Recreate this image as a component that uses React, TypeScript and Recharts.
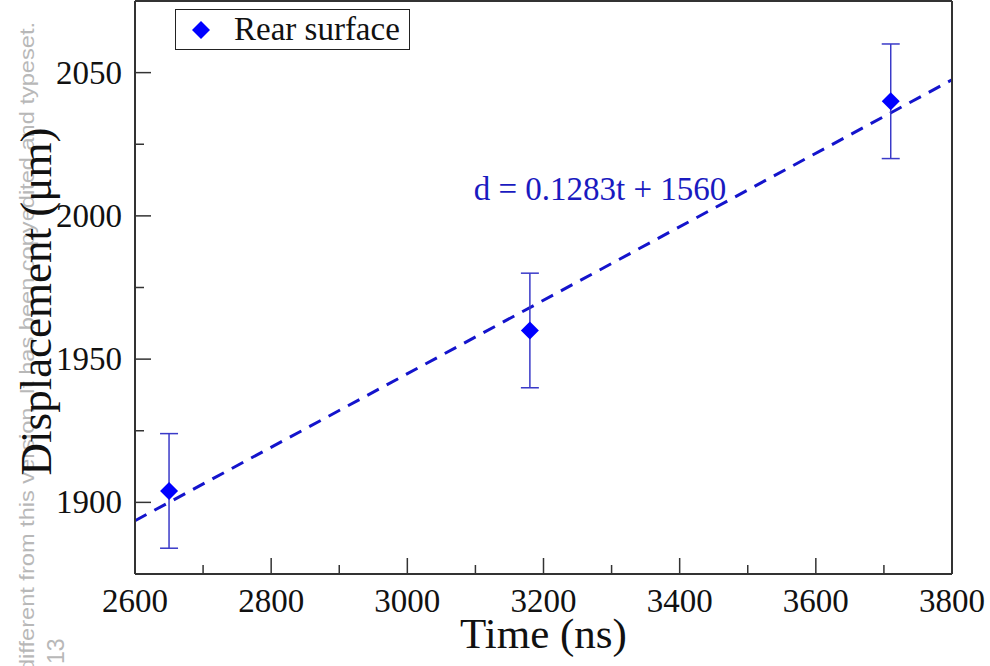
import {
  ComposedChart,
  ErrorBar,
  Legend,
  Line,
  ReferenceDot,
  Scatter,
  XAxis,
  YAxis,
} from "recharts";

const measured = [
  { t: 2650, d: 1904, err: 20 },
  { t: 3180, d: 1960, err: 20 },
  { t: 3710, d: 2040, err: 20 },
];

// fitted line d = 0.1283t + 1560, end points read at the frame edges
const fitLine = [
  { t: 2600, d: 1893.6 },
  { t: 3800, d: 2047.5 },
];

const xTicks = [2600, 2700, 2800, 2900, 3000, 3100, 3200, 3300, 3400, 3500, 3600, 3700, 3800];
const yTicks = [1900, 1925, 1950, 1975, 2000, 2025, 2050];
const xMajorStep = 200;
const yMajorStep = 50;

const fitLabel = "d = 0.1283t + 1560";
const fitLabelAt = { t: 3283, d: 2005 };

const FRAME = "#333";
const BLUE = "#0000ff";
const FONT = "'Liberation Serif', 'Times New Roman', serif";

function BottomTick({ x, y, payload }: any) {
  const major = payload.value % xMajorStep === 0;
  return (
    <g>
      <line x1={x} x2={x} y1={y} y2={y - (major ? 16 : 9)} stroke={FRAME} strokeWidth={1.5} />
      {major && (
        <text x={x} y={y + 38} textAnchor="middle" fontSize={33} fontFamily={FONT} fill="#111">
          {payload.value}
        </text>
      )}
    </g>
  );
}

function TopTick({ x, y, payload }: any) {
  const major = payload.value % xMajorStep === 0;
  return <line x1={x} x2={x} y1={y} y2={y + (major ? 16 : 9)} stroke={FRAME} strokeWidth={1.5} />;
}

function LeftTick({ x, y, payload }: any) {
  const major = payload.value % yMajorStep === 0;
  return (
    <g>
      <line x1={x} x2={x + (major ? 16 : 9)} y1={y} y2={y} stroke={FRAME} strokeWidth={1.5} />
      {major && (
        <text x={x - 13} y={y + 11} textAnchor="end" fontSize={33} fontFamily={FONT} fill="#111">
          {payload.value}
        </text>
      )}
    </g>
  );
}

function RightTick({ x, y, payload }: any) {
  const major = payload.value % yMajorStep === 0;
  return <line x1={x} x2={x - (major ? 16 : 9)} y1={y} y2={y} stroke={FRAME} strokeWidth={1.5} />;
}

function Diamond({ cx, cy }: any) {
  const r = 9;
  return <polygon points={`${cx},${cy - r} ${cx + r},${cy} ${cx},${cy + r} ${cx - r},${cy}`} fill={BLUE} />;
}

function LegendBox({ payload }: any) {
  const items = (payload || []).filter((p: any) => p.type !== "none");
  return (
    <div
      style={{
        width: 233,
        height: 39,
        border: "1.5px solid #222",
        background: "#fff",
        display: "flex",
        alignItems: "center",
      }}
    >
      {items.map((item: any) => (
        <div key={item.value} style={{ display: "flex", alignItems: "center" }}>
          <svg width={50} height={30}>
            <Diamond cx={25} cy={15} />
          </svg>
          <span style={{ fontFamily: FONT, fontSize: 33, color: "#111", marginLeft: 8, lineHeight: "39px" }}>
            {item.value}
          </span>
        </div>
      ))}
    </div>
  );
}

function Watermark() {
  return (
    <svg width={80} height={666} style={{ position: "absolute", left: 0, top: 0 }}>
      <text
        transform="translate(34, 22) rotate(-90)"
        textAnchor="end"
        fontSize={21}
        textLength={650}
        lengthAdjust="spacingAndGlyphs"
        fontFamily="'Liberation Sans', Arial, sans-serif"
        fill="#b8b8b8"
      >
        different from this version. It has been copyedited and typeset.
      </text>
      <text
        transform="translate(64, 664) rotate(-90)"
        textAnchor="start"
        fontSize={23}
        fontFamily="'Liberation Sans', Arial, sans-serif"
        fill="#b8b8b8"
      >
        13
      </text>
    </svg>
  );
}

export default function App() {
  return (
    <div style={{ position: "absolute", left: 0, top: 0, width: 990, height: 666, background: "#fff" }}>
      <Watermark />
      <div style={{ position: "absolute", left: 0, top: 0 }}>
        <ComposedChart width={990} height={666} margin={{ top: 0, right: 37, bottom: 0, left: 0 }}>
          <XAxis
            dataKey="t"
            type="number"
            domain={[2600, 3800]}
            ticks={xTicks}
            interval={0}
            height={92}
            tickSize={0}
            tickMargin={0}
            tickLine={false}
            tick={<BottomTick />}
            axisLine={{ stroke: FRAME, strokeWidth: 2 }}
            label={({ viewBox }: any) => (
              <text
                x={viewBox.x + viewBox.width / 2}
                y={648}
                textAnchor="middle"
                fontSize={43}
                fontFamily={FONT}
                fill="#111"
              >
                Time (ns)
              </text>
            )}
          />
          <XAxis
            xAxisId="top"
            orientation="top"
            dataKey="t"
            type="number"
            domain={[2600, 3800]}
            ticks={xTicks}
            interval={0}
            height={1}
            tickSize={0}
            tickMargin={0}
            tickLine={false}
            tick={<TopTick />}
            axisLine={{ stroke: FRAME, strokeWidth: 2 }}
          />
          <YAxis
            dataKey="d"
            type="number"
            domain={[1875, 2075]}
            ticks={yTicks}
            interval={0}
            width={135}
            tickSize={0}
            tickMargin={0}
            tickLine={false}
            tick={<LeftTick />}
            axisLine={{ stroke: FRAME, strokeWidth: 2 }}
            label={({ viewBox }: any) => (
              <text
                transform={`translate(51, ${viewBox.y + viewBox.height / 2 + 14}) rotate(-90)`}
                textAnchor="middle"
                fontSize={45}
                fontFamily={FONT}
                fill="#111"
              >
                Displacement (μm)
              </text>
            )}
          />
          <YAxis
            yAxisId="right"
            orientation="right"
            dataKey="d"
            type="number"
            domain={[1875, 2075]}
            ticks={yTicks}
            interval={0}
            width={1}
            tickSize={0}
            tickMargin={0}
            tickLine={false}
            tick={<RightTick />}
            axisLine={{ stroke: FRAME, strokeWidth: 2 }}
          />
          <Legend
            layout="vertical"
            align="center"
            verticalAlign="middle"
            content={<LegendBox />}
            wrapperStyle={{ left: 175, top: 9, width: "auto", height: "auto" }}
          />
          <Line
            data={fitLine}
            dataKey="d"
            stroke="#1414cc"
            strokeWidth={3}
            strokeDasharray="13 9"
            dot={false}
            activeDot={false}
            legendType="none"
            isAnimationActive={false}
          />
          <Scatter data={measured} dataKey="d" name="Rear surface" shape={<Diamond />} isAnimationActive={false}>
            <ErrorBar dataKey="err" direction="y" width={9} stroke="#3a3ac8" strokeWidth={1.5} isAnimationActive={false} />
          </Scatter>
          <ReferenceDot
            x={fitLabelAt.t}
            y={fitLabelAt.d}
            r={0}
            fill="none"
            stroke="none"
            label={({ viewBox }: any) => (
              <text
                x={viewBox.x + (viewBox.width || 0) / 2}
                y={viewBox.y + (viewBox.height || 0) / 2 - 2}
                textAnchor="middle"
                fontSize={33}
                fontFamily={FONT}
                fill="#1a1ac0"
              >
                {fitLabel}
              </text>
            )}
          />
        </ComposedChart>
      </div>
    </div>
  );
}
